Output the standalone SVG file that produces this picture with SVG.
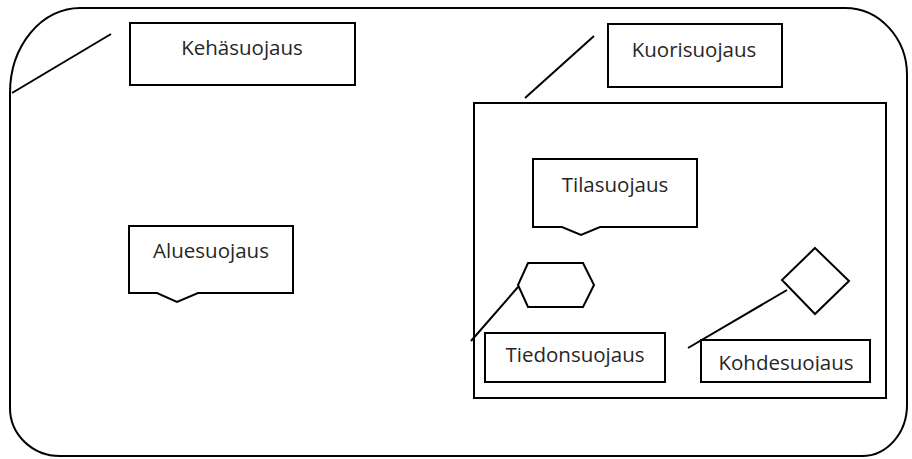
<svg xmlns="http://www.w3.org/2000/svg" width="912" height="459" viewBox="0 0 912 459">
  <style>
    .ln { fill: none; stroke: #000; stroke-width: 2; stroke-linejoin: miter; }
    .bx { fill: #fff; stroke: #000; stroke-width: 2; }
    .tx { font-family: "Open Sans", "Noto Sans", sans-serif; font-size: 20.5px; fill: #262626; text-anchor: middle; }
  </style>
  <defs>
    <clipPath id="kohdeClip">
      <rect x="701" y="340" width="169" height="31"/>
    </clipPath>
  </defs>
  <rect width="912" height="459" fill="#fff"/>

  <!-- outer zone boundary -->
  <g id="outer-zone">
    <path class="ln" d="M 10 93 A 70 85 0 0 1 80 8 L 845 8 A 62 67 0 0 1 907 75 L 907 405 A 45 51 0 0 1 862 456 L 60 456 A 50 48 0 0 1 10 408 Z"/>
  </g>

  <!-- inner shell -->
  <g id="shell">
    <rect class="ln" x="474" y="103" width="412" height="295"/>
  </g>

  <g id="connectors">
    <line class="ln" x1="12" y1="93" x2="111" y2="34"/>
    <line class="ln" x1="525" y1="98" x2="594" y2="36"/>
    <line class="ln" x1="518" y1="287" x2="471" y2="341"/>
    <line class="ln" x1="787" y1="290" x2="688" y2="348"/>
  </g>

  <g id="kehasuojaus">
    <rect class="bx" x="130" y="23" width="225" height="62"/>
    <text class="tx" x="242" y="55">Kehäsuojaus</text>
  </g>

  <g id="kuorisuojaus">
    <rect class="bx" x="608" y="24" width="174" height="63"/>
    <text class="tx" x="694" y="57">Kuorisuojaus</text>
  </g>

  <g id="aluesuojaus">
    <path class="bx" d="M 129 226 L 293 226 L 293 293 L 198 293 L 177 302 L 157 293 L 129 293 Z"/>
    <text class="tx" x="211" y="258">Aluesuojaus</text>
  </g>

  <g id="tilasuojaus">
    <path class="bx" d="M 533 159 L 697 159 L 697 227 L 600 227 L 581 235 L 562 227 L 533 227 Z"/>
    <text class="tx" x="615" y="192">Tilasuojaus</text>
  </g>

  <g id="tieto-symboli">
    <polygon class="bx" points="528,263 583,263 594,285 583,307 528,307 518,285"/>
  </g>

  <g id="kohde-symboli">
    <polygon class="bx" points="815,248 849,281 815,314 782,280"/>
  </g>

  <g id="tiedonsuojaus">
    <rect class="bx" x="485" y="333" width="180" height="49"/>
    <text class="tx" x="575" y="362">Tiedonsuojaus</text>
  </g>

  <g id="kohdesuojaus">
    <rect class="bx" x="701" y="340" width="169" height="42"/>
    <text class="tx" x="786" y="370" clip-path="url(#kohdeClip)">Kohdesuojaus</text>
  </g>
</svg>
